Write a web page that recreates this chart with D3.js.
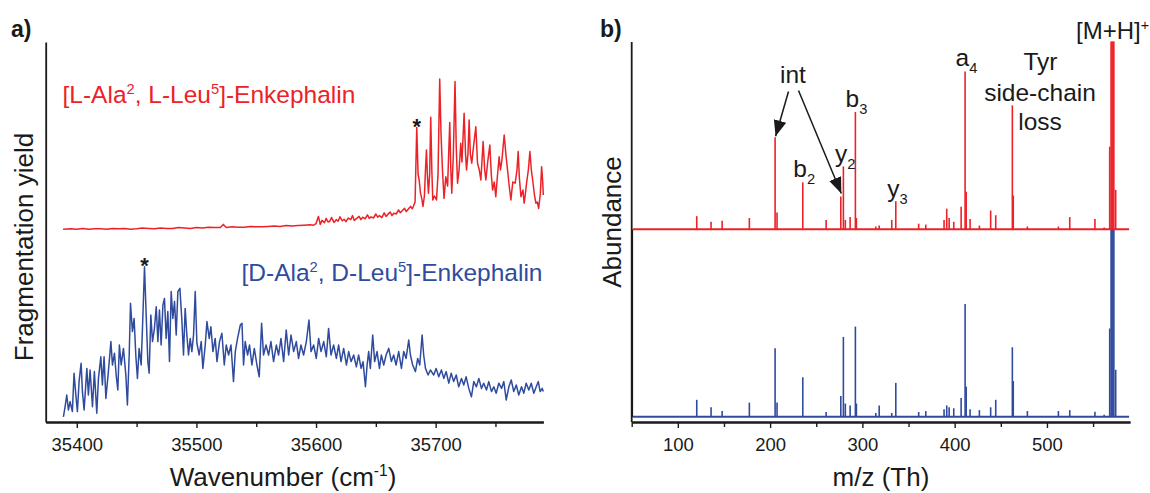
<!DOCTYPE html>
<html>
<head>
<meta charset="utf-8">
<script src="https://cdn.jsdelivr.net/npm/d3@7"></script>
<style>
body{margin:0;background:#fff}
svg text{font-family:"Liberation Sans",Arial,sans-serif}
</style>
</head>
<body>
<div id="chart"></div>
<script>
// IR spectra, [wavenumber (cm-1), fragmentation yield (a.u.)]
var irRed = [[35388.5,48.2],[35395,48.3],[35400,48.2],[35405,48.4],[35410,48.2],[35415,48.3],[35420,48.3],[35425,48.2],[35430,48.4],[35435,48.3],[35440,48.4],[35445,48.2],[35450,48.3],[35455,48.5],[35460,48.4],[35465,48.3],[35470,48.5],[35475,48.4],[35480,48.4],[35485,48.6],[35490,48.5],[35495,48.4],[35500,48.6],[35505,48.5],[35510,48.7],[35515,48.6],[35520,48.6],[35522.5,49.4],[35525,48.6],[35530,48.8],[35535,48.7],[35540,48.7],[35545,48.9],[35550,48.8],[35555,48.8],[35560,48.9],[35565,49.0],[35570,48.9],[35575,49.1],[35580,49.0],[35585,49.1],[35590,49.2],[35595,49.3],[35598,49.2],
  [35600,49.6],[35602,51.4],[35603.5,49.4],[35605,50.4],[35607,49.8],[35608.5,50.9],[35610,50.0],[35611.5,50.2],[35613,51.1],[35615,49.9],[35617,50.6],[35618.5,50.2],[35620,51.3],[35622,50.3],[35623.5,50.7],[35625,50.1],[35627,51.0],[35629,50.6],[35630.5,51.6],[35632,50.4],[35634,50.9],[35636,51.4],[35637.5,50.6],[35639,51.2],[35641,50.8],[35643,51.8],[35644.5,50.9],[35646,51.3],[35648,51.0],[35650,52.0],[35651.5,51.2],[35653,51.6],[35655,51.1],[35657,52.3],[35658.5,51.4],[35660,51.9],[35662,52.5],[35663.5,51.6],[35665,52.2],[35667,52.0],[35669,53.0],[35670.5,52.3],[35672,52.8],[35674,53.4],[35675.5,52.6],[35677,53.2],[35679,53.9],[35680.5,53.3],[35681.5,54.0],[35682.8,55.0],
  [35684.2,73.6],[35685.3,62],[35686.2,60.5],[35687.3,57.3],[35688.3,56],[35689.4,53.9],[35690.6,56.5],[35691.5,63],[35692.3,68],[35693.2,61],[35694.0,57.2],[35695.0,62],[35695.9,76.2],[35696.8,63],[35697.6,55.5],[35699.0,56.5],[35700.7,55.5],[35702.0,62],[35703.4,85.75],[35704.5,72],[35705.7,63],[35707.0,55.9],[35708.5,61.3],[35710.0,59],[35711.8,74.9],[35712.7,63],[35713.5,57.2],[35714.8,67],[35716.2,85.1],[35717.2,69],[35718.3,59.7],[35719.6,63],[35721.0,69.7],[35722.0,65],[35723.8,77.2],[35725.0,67],[35725.8,63],[35727.0,67],[35728.0,75.5],[35729.0,67],[35730.2,64.7],[35731.5,68.5],[35733.6,73.8],[35735.0,64.7],[35736.5,63],[35737.8,60.5],[35739.7,70.1],[35741.0,63],[35742.0,60.5],[35743.5,65],[35745.3,69.25],[35746.5,62],[35747.6,58],[35749.0,60],[35750.3,56.3],[35751.5,61],[35753.1,66.3],[35754.2,63],[35755.4,65.5],[35757.3,71.75],[35758.7,67],[35760.1,63],[35761.5,59],[35762.9,55.5],[35764.5,60],[35766.5,59.7],[35768.0,63],[35769.0,67.6],[35770.0,61],[35771.3,56.3],[35773.0,58],[35774.0,54.7],[35775.0,57],[35776.0,59.7],[35777.5,63],[35778.8,67.6],[35780.0,63],[35781.1,60.5],[35782.5,57],[35783.8,54.7],[35785.0,55],[35786.1,53.4],[35787.5,57],[35788.6,63.8],[35789.5,60],[35790.0,56.75]]

var irBlue = [[35388.8,1.3],[35390.2,3.8],[35391.6,6.75],[35393.0,3.0],[35394.4,5.1],[35396.3,2.6],[35397.7,12.2],[35399.2,6.75],[35400.5,2.6],[35401.9,10.1],[35403.6,14.7],[35404.7,7.6],[35406.1,3.0],[35408.4,13.4],[35409.7,6.75],[35411.1,13.0],[35413.1,3.8],[35414.7,12.6],[35416.7,2.2],[35418.1,10.9],[35420.1,16.3],[35421.4,9.25],[35422.8,16.3],[35424.3,5.9],[35426.4,12.6],[35428.5,20.1],[35429.8,14.25],[35431.5,17.2],[35432.9,11.75],[35434.3,8.0],[35435.6,19.25],[35437.1,14.25],[35439.0,18.4],[35441.0,11.75],[35442.3,4.25],[35443.8,16.75],[35444.9,29.7],[35446.5,22.6],[35447.9,25.9],[35449.4,16.3],[35450.7,10.9],[35452.1,18.4],[35453.8,14.25],[35454.9,23.4],[35456.6,38.8],[35458.0,26.75],[35459.4,15.1],[35460.5,12.2],[35461.9,26.75],[35463.3,20.1],[35464.9,23.4],[35466.4,28.8],[35467.8,20.1],[35469.1,28.0],[35470.5,19.25],[35472.0,29.25],[35473.3,30.9],[35474.7,20.9],[35476.1,27.6],[35477.5,15.1],[35478.9,32.6],[35480.3,25.9],[35481.7,30.1],[35483.1,21.75],[35484.5,32.6],[35486.2,33.4],[35487.9,25.1],[35489.2,16.75],[35490.6,28.4],[35492.0,21.75],[35493.4,16.75],[35494.8,20.9],[35496.2,17.6],[35497.6,21.75],[35499.0,32.6],[35500.4,19.7],[35502.3,16.75],[35504.0,20.1],[35505.4,13.4],[35507.4,19.25],[35508.8,25.1],[35510.7,20.9],[35512.1,23.8],[35513.8,17.6],[35515.7,20.9],[35517.2,15.1],[35519.3,20.1],[35521.3,22.2],[35523.3,14.25],[35524.9,19.25],[35526.9,16.75],[35528.9,19.25],[35531.0,10.1],[35532.5,17.6],[35534.4,20.9],[35536.7,24.25],[35538.1,24.7],[35539.4,14.25],[35540.8,20.1],[35542.8,16.75],[35544.4,19.25],[35546.4,14.25],[35548.4,18.4],[35550.6,14.25],[35552.5,11.3],[35554.5,24.7],[35556.1,16.75],[35558.2,19.25],[35560.3,16.75],[35562.3,20.1],[35564.5,15.1],[35566.8,19.25],[35568.7,16.75],[35570.7,20.9],[35572.9,15.1],[35575.1,23.0],[35577.1,16.75],[35579.1,21.75],[35581.3,17.6],[35583.5,20.1],[35585.4,15.9],[35587.4,19.25],[35589.6,16.75],[35591.9,20.1],[35594.1,25.5],[35595.8,17.6],[35598.0,19.25],[35600.2,15.9],[35602.2,20.9],[35604.2,17.6],[35606.4,20.1],[35608.6,16.3],[35610.5,23.4],[35612.5,16.75],[35614.7,19.25],[35617.0,15.9],[35618.9,19.25],[35620.9,15.1],[35623.1,18.4],[35625.4,14.25],[35627.3,17.6],[35629.3,15.1],[35631.5,16.75],[35633.7,13.8],[35635.6,16.75],[35637.7,13.4],[35639.3,15.1],[35641.3,8.8],[35642.7,14.25],[35644.0,17.6],[35645.4,13.4],[35647.4,21.75],[35649.0,15.1],[35651.0,17.6],[35653.0,13.4],[35654.6,16.75],[35656.6,14.25],[35658.6,16.75],[35660.8,18.4],[35663.0,15.1],[35664.9,16.75],[35666.9,14.25],[35669.1,17.6],[35671.4,13.4],[35673.3,17.6],[35675.3,15.9],[35677.5,20.5],[35678.9,16.75],[35680.8,14.25],[35683.1,12.6],[35685.0,15.9],[35686.7,14.25],[35688.7,21.75],[35690.0,16.75],[35691.5,13.4],[35693.7,11.75],[35695.6,13.0],[35698.4,11.75],[35700.4,13.4],[35702.6,11.3],[35704.8,13.0],[35706.8,10.9],[35708.8,12.6],[35711.0,9.7],[35713.0,12.2],[35715.1,10.1],[35717.2,11.75],[35719.3,8.8],[35721.6,10.9],[35723.5,9.25],[35725.5,11.3],[35727.7,8.4],[35729.9,6.3],[35731.9,10.1],[35734.1,8.8],[35736.1,10.9],[35738.3,8.4],[35740.2,9.7],[35742.5,8.0],[35744.4,10.1],[35746.7,7.6],[35748.6,8.8],[35750.6,7.2],[35752.8,9.7],[35755.1,8.4],[35757.0,10.1],[35759.0,5.5],[35761.2,8.8],[35763.2,10.5],[35765.3,7.6],[35767.4,9.25],[35769.5,6.75],[35771.8,8.8],[35773.7,7.2],[35775.7,9.7],[35777.9,8.0],[35779.9,9.7],[35782.1,7.2],[35784.1,8.8],[35785.8,10.1],[35787.4,7.6],[35789.1,8.4],[35790.0,7.6]]

// mass spectra: peak m/z and relative abundance (% of [M+H]+)
var msMz   = [120.5,136,148,177.5,205.4,207.5,235.4,260.7,276.6,279.4,281.5,286.7,292.4,293.5,314.5,318.2,331.8,336.2,361,368.7,388.5,391.4,394,399,407,411.3,412.5,416.7,426.8,439,444.5,462.5,463.5,478.8,512.4,524.7,552,562,568,569.5,570.5,571.5,572.5,574.5]
var msRed  = [7,4,4.5,6,49,9,25,5,17.5,33.5,5,6.5,62.5,6,1.5,2,5,15,3,2.5,5,11,6,4,12,84,20,5.5,2,10,7.5,66,18,1.5,1.5,6.5,5.5,1,44,100,100,100,100,21]
var msBlue = [9,5,3,7.5,36.5,7.5,21,2.5,11,42.5,7,6,48,7,2,6,2,18,2.5,3,4,6,5,4.5,10,60,16,4,3.5,5,9,37,19,3,3,3.5,2.7,1,47,100,100,100,100,25]

var wnTicks = [35400,35500,35600,35700]
var wnMinor = [35450,35550,35650,35750]
var mzTicks = [100,200,300,400,500]
var mzMinor = [50,150,250,350,450,550]

var W = 1150, H = 493
var red = '#ec2227', blue = '#2f4b9e', ink = '#1a1a1a'

var svg = d3.select('#chart').append('svg').attr('width',W).attr('height',H)

function bottomAxis(scale, y, major, minor){
	var g = svg.append('g').attr('transform','translate(0,'+y+')')
	g.append('g').call(d3.axisBottom(scale).tickValues(minor).tickSize(5).tickFormat('').tickSizeOuter(0))
	g.append('g').call(d3.axisBottom(scale).tickValues(major).tickSize(6).tickPadding(10)
		.tickFormat(d3.format('d')).tickSizeOuter(0))
	g.selectAll('.domain').attr('stroke',ink).attr('stroke-width',1.8)
	g.selectAll('.tick line').attr('stroke',ink).attr('stroke-width',1.4)
	g.selectAll('.tick text').attr('font-size',18.5).attr('fill',ink)
		.attr('font-family','"Liberation Sans",Arial,sans-serif')
}
function leftAxis(scale, x){
	var g = svg.append('g').attr('transform','translate('+x+',0)')
	g.call(d3.axisLeft(scale).tickValues([]).tickSizeOuter(0))
	g.selectAll('.domain').attr('stroke',ink).attr('stroke-width',1.8)
}
// text with sub/superscript pieces
function label(x, y, parts, size, color, anchor, rot){
	var t = svg.append('text').attr('font-size',size).attr('fill',color)
		.attr('text-anchor',anchor || 'start')
	if (rot) t.attr('transform','translate('+x+','+y+') rotate(-90)')
	else t.attr('x',x).attr('y',y)
	var shift = 0
	parts.forEach(function(p){
		var s = (typeof p === 'string') ? {t:p} : p
		var target = s.sup ? -size*0.37 : (s.sub ? size*0.3 : 0)
		var ts = t.append('tspan').attr('dy',target - shift).text(s.t)
		if (s.sup || s.sub) ts.attr('font-size',size*0.6)
		shift = target
	})
	return t
}
function star(x, y){
	svg.append('text').attr('x',x).attr('y',y + 6.5).attr('text-anchor','middle')
		.attr('font-size',22).attr('font-weight','bold').attr('fill',ink).text('*')
}

// ---- panel a ----
var ax = d3.scaleLinear().domain([35374,35790]).range([45.7,543.3])
var ay = d3.scaleLinear().domain([0,95]).range([422,42])
var irLine = d3.line().x(function(d){return ax(d[0])}).y(function(d){return ay(d[1])})

svg.append('path').datum(irBlue).attr('d',irLine).attr('fill','none')
	.attr('stroke',blue).attr('stroke-width',1.5).attr('stroke-linejoin','round')
svg.append('path').datum(irRed).attr('d',irLine).attr('fill','none')
	.attr('stroke',red).attr('stroke-width',1.5).attr('stroke-linejoin','round')

bottomAxis(ax, 422, wnTicks, wnMinor)
leftAxis(ay, 45.7)

star(ax(35684.2), ay(73.6))
star(ax(35456.6), ay(38.8))

label(62.5, 103, ['[L-Ala',{t:'2',sup:1},', L-Leu',{t:'5',sup:1},']-Enkephalin'], 24.5, red)
label(241.5, 281, ['[D-Ala',{t:'2',sup:1},', D-Leu',{t:'5',sup:1},']-Enkephalin'], 24.5, blue)
label(283, 486, ['Wavenumber (cm',{t:'-1',sup:1},')'], 26, ink, 'middle')
label(33, 247, ['Fragmentation yield'], 26, ink, 'middle', true)
svg.append('text').attr('x',11).attr('y',37).attr('font-size',23).attr('font-weight','bold')
	.attr('fill',ink).text('a)')

// ---- panel b ----
var mx = d3.scaleLinear().domain([50,590]).range([631.7,1130])
var ryRed = d3.scaleLinear().domain([0,100]).range([229.3,41.5])
var ryBlue = d3.scaleLinear().domain([0,100]).range([416.7,229])

function drawMS(vals, yScale, color){
	var g = svg.append('g')
	g.append('line').attr('x1',mx(51.5)).attr('x2',mx(589)).attr('y1',yScale(0)).attr('y2',yScale(0))
		.attr('stroke',color).attr('stroke-width',2)
	g.selectAll('line.pk').data(msMz).enter().append('line').attr('class','pk')
		.attr('x1',function(d){return mx(d)}).attr('x2',function(d){return mx(d)})
		.attr('y1',yScale(0)).attr('y2',function(d,i){return yScale(vals[i])})
		.attr('stroke',color).attr('stroke-width',1.6)
}
drawMS(msBlue, ryBlue, blue)
drawMS(msRed, ryRed, red)

bottomAxis(mx, 422, mzTicks, mzMinor)
leftAxis(ryBlue, 631.7)
svg.append('line').attr('x1',631.7).attr('x2',631.7).attr('y1',42).attr('y2',422)
	.attr('stroke',ink).attr('stroke-width',1.8)

// annotations
var ann = [
	{x:793.3, y:177, p:['b',{t:'2',sub:1}]},
	{x:835,   y:162, p:['y',{t:'2',sub:1}]},
	{x:845.5, y:107, p:['b',{t:'3',sub:1}]},
	{x:887.3, y:197, p:['y',{t:'3',sub:1}]},
	{x:955.5, y:66,  p:['a',{t:'4',sub:1}]}
]
ann.forEach(function(a){ label(a.x, a.y, a.p, 24.5, ink) })
label(793, 83, ['int'], 24.5, ink, 'middle')
label(1040.5, 70, ['Tyr'], 24.5, ink, 'middle')
label(1040, 100.5, ['side-chain'], 24.5, ink, 'middle')
label(1040, 130, ['loss'], 24.5, ink, 'middle')
label(1076, 38.5, ['[M+H]',{t:'+',sup:1}], 24, ink)

var defs = svg.append('defs')
defs.append('marker').attr('id','arr').attr('viewBox','0 0 10 10').attr('refX',10).attr('refY',5)
	.attr('markerWidth',16).attr('markerHeight',16).attr('markerUnits','userSpaceOnUse')
	.attr('orient','auto').append('path').attr('d','M0,1 L10,5 L0,9 Z').attr('fill',ink)
svg.append('line').attr('x1',788.5).attr('y1',91.5).attr('x2',mx(205.4)+0.5).attr('y2',ryRed(49)-1)
	.attr('stroke',ink).attr('stroke-width',1.5).attr('marker-end','url(#arr)')
svg.append('line').attr('x1',798.5).attr('y1',90.5).attr('x2',mx(276.6)+0.5).attr('y2',ryRed(17.5)-3)
	.attr('stroke',ink).attr('stroke-width',1.5).attr('marker-end','url(#arr)')

label(881, 486, ['m/z (Th)'], 26, ink, 'middle')
label(621, 222, ['Abundance'], 26, ink, 'middle', true)
svg.append('text').attr('x',600).attr('y',37).attr('font-size',23).attr('font-weight','bold')
	.attr('fill',ink).text('b)')
</script>
</body>
</html>
